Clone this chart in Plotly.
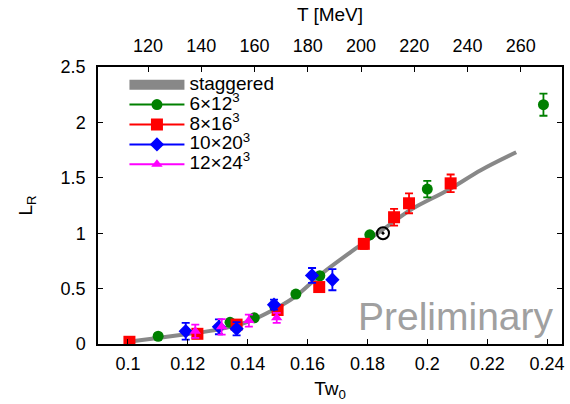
import plotly.graph_objects as go

# ---- data ----
stag_x = [0.100, 0.110, 0.120, 0.130, 0.140, 0.150, 0.156, 0.165, 0.176, 0.185, 0.195, 0.207, 0.218, 0.2297]
stag_y = [0.02, 0.055, 0.09, 0.13, 0.20, 0.33, 0.43, 0.64, 0.86, 1.03, 1.22, 1.39, 1.57, 1.73]

g_x = [0.1101, 0.1341, 0.1422, 0.1490, 0.1561, 0.1641, 0.1808, 0.2000, 0.2388]
g_y = [0.07, 0.196, 0.236, 0.34, 0.451, 0.616, 0.985, 1.398, 2.16]
g_e = [0.01, 0.01, 0.01, 0.01, 0.01, 0.02, 0.02, 0.075, 0.10]

r_x = [0.1005, 0.1232, 0.1363, 0.1500, 0.1639, 0.1788, 0.1889, 0.1939, 0.2078]
r_y = [0.02, 0.092, 0.175, 0.307, 0.514, 0.904, 1.144, 1.27, 1.45]
r_e = [0.01, 0.01, 0.01, 0.02, 0.03, 0.045, 0.075, 0.09, 0.08]

b_x = [0.1193, 0.1304, 0.1363, 0.1488, 0.1615, 0.1683]
b_y = [0.115, 0.155, 0.137, 0.355, 0.619, 0.58]
b_e = [0.075, 0.067, 0.06, 0.045, 0.067, 0.095]

m_x = [0.1225, 0.1313, 0.1404, 0.1497]
m_y = [0.115, 0.155, 0.211, 0.236]
m_e = [0.06, 0.07, 0.055, 0.045]

tc_x = [0.1852]
tc_y = [1.0]

x_ticks = [0.1, 0.12, 0.14, 0.16, 0.18, 0.2, 0.22, 0.24]
x_tick_labels = ["0.1", "0.12", "0.14", "0.16", "0.18", "0.2", "0.22", "0.24"]
y_ticks = [0, 0.5, 1, 1.5, 2, 2.5]
y_tick_labels = ["0", "0.5", "1", "1.5", "2", "2.5"]
t_ticks = [120, 140, 160, 180, 200, 220, 240, 260]

x_range = [0.09, 0.245]
y_range = [0, 2.5]
w0_fm = 0.1755
hbarc = 197.327
t_range = [v * hbarc / w0_fm for v in x_range]

FONT = "Liberation Sans, Arial, sans-serif"


def big(s):
    return '<span style="font-size:19px">' + s + '</span>'


fig = go.Figure()

fig.add_trace(go.Scatter(x=stag_x, y=stag_y, mode="lines", line=dict(color="#888888", width=4, shape="spline"),
                         showlegend=False, hoverinfo="skip"))

series = [
    ("6×12<sup>3</sup>", g_x, g_y, g_e, "#008000", "circle", 11),
    ("8×16<sup>3</sup>", r_x, r_y, r_e, "#ff0000", "square", 12),
    ("10×20<sup>3</sup>", b_x, b_y, b_e, "#0000ff", "diamond", 11),
    ("12×24<sup>3</sup>", m_x, m_y, m_e, "#ff00ff", "triangle-up", 10),
]
for name, xs, ys, es, col, sym, sz in series:
    fig.add_trace(go.Scatter(x=xs, y=ys, mode="markers",
                             marker=dict(color=col, symbol=sym, size=sz, line=dict(width=0)),
                             error_y=dict(type="data", array=es, color=col, thickness=1.8, width=4),
                             showlegend=False))

fig.add_trace(go.Scatter(x=tc_x, y=tc_y, mode="markers",
                         marker=dict(symbol="circle-open-dot", size=12, color="black", line=dict(width=2)),
                         showlegend=False))

# legend-only entries
fig.add_trace(go.Scatter(x=[None], y=[None], mode="lines", name=big("staggered"),
                         line=dict(color="#888888", width=10)))
for name, xs, ys, es, col, sym, sz in series:
    fig.add_trace(go.Scatter(x=[None], y=[None], mode="lines+markers", name=big(name),
                             line=dict(color=col, width=2),
                             marker=dict(color=col, symbol=sym, size=sz)))

# invisible trace to activate top axis
fig.add_trace(go.Scatter(x=t_range, y=[-1, -1], xaxis="x2", mode="markers", opacity=0,
                         showlegend=False, hoverinfo="skip"))

axis_common = dict(showline=True, linecolor="black", linewidth=1.5, ticks="inside", ticklen=5,
                   tickcolor="black", tickwidth=1.2, showgrid=False, zeroline=False, automargin=False,
                   tickfont=dict(family=FONT, size=18, color="black"))

fig.update_layout(
    width=570, height=404,
    margin=dict(l=98, r=8, t=67, b=60),
    paper_bgcolor="white", plot_bgcolor="white",
    font=dict(family=FONT, size=18, color="black"),
    xaxis=dict(range=x_range, tickvals=x_ticks, ticktext=x_tick_labels, mirror=False, ticklabelstandoff=3,
               title=dict(text="Tw<sub>0</sub>", font=dict(family=FONT, size=19), standoff=8),
               **axis_common),
    xaxis2=dict(range=t_range, overlaying="x", side="top", tickvals=t_ticks, ticklabelstandoff=6,
                title=dict(text="T [MeV]", font=dict(family=FONT, size=19), standoff=9),
                **axis_common),
    yaxis=dict(range=y_range, tickvals=y_ticks, ticktext=y_tick_labels, mirror="ticks", ticklabelstandoff=7,
               title=dict(text="L<sub>R</sub>", font=dict(family=FONT, size=19), standoff=23),
               **axis_common),
    legend=dict(x=0.057, y=0.99, xanchor="left", yanchor="top", bgcolor="rgba(0,0,0,0)",
                font=dict(family=FONT, size=13), itemwidth=55, tracegroupgap=0),
    annotations=[dict(text="Preliminary", xref="paper", yref="paper", x=0.986, y=0.1,
                      xanchor="right", yanchor="middle", showarrow=False,
                      font=dict(family=FONT, size=39, color="#a0a0a0"))],
)

fig.write_html("out.html", config={"displayModeBar": False},
               post_script="document.body.style.margin='0';document.body.style.padding='0';")
